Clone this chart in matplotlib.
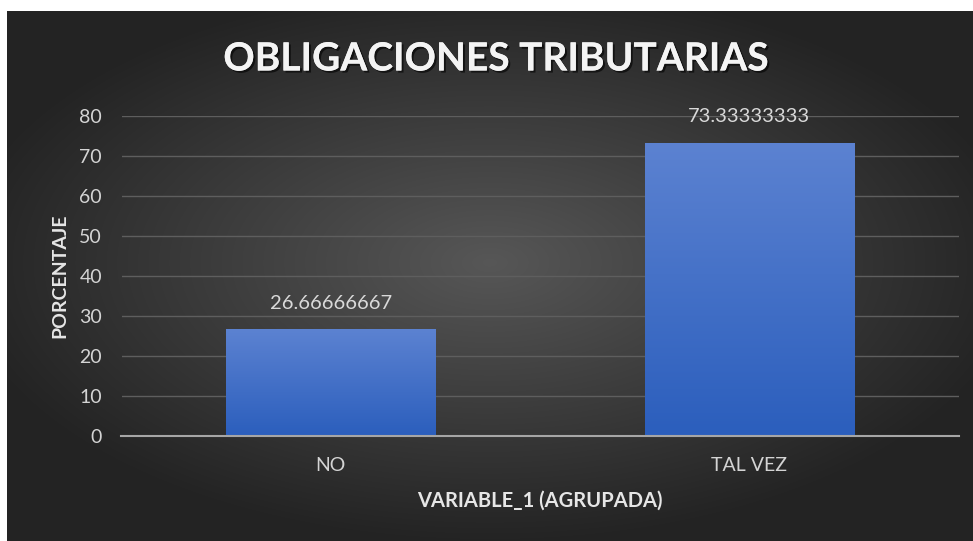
import matplotlib.pyplot as plt
import matplotlib.patheffects as pe
import numpy as np

categories = ["NO", "TAL VEZ"]
values = [26.66666667, 73.33333333]
value_labels = ["26.66666667", "73.33333333"]
yticks = [0, 10, 20, 30, 40, 50, 60, 70, 80]

W, H = 973, 541
fig = plt.figure(figsize=(W / 100, H / 100), dpi=100, facecolor="white")
plt.rcParams["font.family"] = ["Lato", "DejaVu Sans"]

# dark radial background of the chart area (white strip at top and left)
bg = fig.add_axes([7 / W, 0, (W - 7) / W, (H - 11) / H], zorder=0)
gx, gy = np.meshgrid(np.linspace(-1, 1, 400), np.linspace(-1, 1, 240))
r = np.sqrt((gx / 1.05) ** 2 + ((gy + 0.05) / 1.0) ** 2)
shade = np.clip(0.34 - 0.19 * r, 0.14, 0.34)
bg.imshow(np.dstack([shade] * 3), aspect="auto", extent=[0, 1, 0, 1], interpolation="bilinear")
bg.set_axis_off()

ax = fig.add_axes([121.5 / W, 1 - 436 / H, 837 / W, 320 / H], zorder=1)
ax.patch.set_alpha(0)
x = np.arange(len(categories))
bars = ax.bar(x, values, width=0.5, color="none", zorder=3)

grad = np.linspace(0, 1, 100).reshape(-1, 1)
top = np.array([0.36, 0.51, 0.82])
bottom = np.array([0.17, 0.37, 0.74])
cols = bottom + (top - bottom) * grad[..., None]
for b in bars:
    bx, bw, bh = b.get_x(), b.get_width(), b.get_height()
    im = ax.imshow(cols, extent=[bx, bx + bw, 0, bh], origin="lower", aspect="auto", zorder=3)
    im.set_clip_path(b)

for xi, v, lab in zip(x, values, value_labels):
    ax.text(xi, v + 6.5, lab, ha="center", va="center", color="#d9d9d9", fontsize=14.5)

ax.set_xlim(-0.5, 1.5)
ax.set_ylim(0, 80)
ax.set_yticks(yticks)
ax.set_xticks(x)
ax.set_xticklabels(categories)
ax.tick_params(colors="#d4d4d4", labelsize=14, length=0)
ax.tick_params(axis="x", pad=15)
ax.tick_params(axis="y", pad=14)
ax.grid(axis="y", color="#5e5e5e", linewidth=1)
ax.set_axisbelow(True)
for s in ["top", "right", "left"]:
    ax.spines[s].set_visible(False)
ax.spines["bottom"].set_color("#a6a6a6")
ax.spines["bottom"].set_linewidth(1.5)
ax.spines["bottom"].set_zorder(4)

ax.set_ylabel("PORCENTAJE", color="#e6e6e6", fontsize=14, fontweight="bold", labelpad=8)
ax.set_xlabel("VARIABLE_1 (AGRUPADA)", color="#e6e6e6", fontsize=14.5, fontweight="bold", labelpad=12)

fig.text(496 / W, 1 - 59 / H, "OBLIGACIONES TRIBUTARIAS", ha="center", va="center",
         color="#f4f4f4", fontsize=28, fontweight="bold",
         path_effects=[pe.withSimplePatchShadow(offset=(1.5, -1.5), shadow_rgbFace="black", alpha=0.6),
                       pe.Normal()])

fig.savefig("out.png", dpi=100, facecolor="white")
